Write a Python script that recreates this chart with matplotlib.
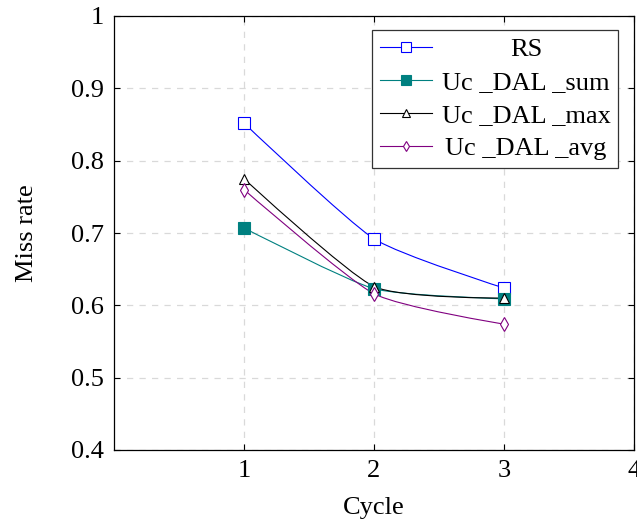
import matplotlib.pyplot as plt
import numpy as np
from matplotlib.path import Path
from matplotlib.patches import PathPatch

cycles = [1, 2, 3]
rs = [0.852, 0.692, 0.624]
dal_sum = [0.707, 0.623, 0.609]
dal_max = [0.775, 0.626, 0.610]
dal_avg = [0.760, 0.616, 0.574]

labels = ['RS', 'Uc _DAL _sum', 'Uc _DAL _max', 'Uc _DAL _avg']
colors = ['#0000ff', '#008080', '#000000', '#800080']
markers = ['s', 's', '^', 'd']
filled = [False, True, False, False]

plt.rcParams['font.family'] = ['Liberation Serif', 'DejaVu Serif']


def smooth_path(x, y, f=0.1):
    # bezier curve like pgfplots "smooth"
    pts = np.column_stack([x, y]).astype(float)
    n = len(pts)
    verts = [pts[0]]
    codes = [Path.MOVETO]
    for i in range(n - 1):
        p0 = pts[i]
        p1 = pts[i + 1]
        c1 = p0 if i == 0 else p0 + f * (pts[i + 1] - pts[i - 1])
        c2 = p1 if i + 2 >= n else p1 - f * (pts[i + 2] - pts[i])
        verts += [c1, c2, p1]
        codes += [Path.CURVE4] * 3
    return Path(verts, codes)


fig = plt.figure(figsize=(6.37, 5.25), dpi=100)
ax = fig.add_axes([114 / 637, 1 - 450 / 525, 520 / 637, 434 / 525])

series = [rs, dal_sum, dal_max, dal_avg]
for vals, lab, c, m, fl in zip(series, labels, colors, markers, filled):
    ax.add_patch(PathPatch(smooth_path(cycles, vals), facecolor='none',
                           edgecolor=c, lw=0.8, zorder=3))
    ms = 8.5 if m == 's' else 7
    ax.plot(cycles, vals, linestyle='none', marker=m, markersize=ms,
            markerfacecolor=c if fl else 'white', markeredgecolor=c,
            markeredgewidth=0.8, zorder=4)
    lms = 7 if m == 's' else 5.5
    ax.plot([], [], color=c, lw=0.8, marker=m, markersize=lms,
            markerfacecolor=c if fl else 'white', markeredgecolor=c,
            markeredgewidth=0.8, label=lab)

ax.set_xlim(0, 4)
ax.set_ylim(0.4, 1.0)
ax.set_xticks([1, 2, 3, 4])
ax.set_yticks([0.4, 0.5, 0.6, 0.7, 0.8, 0.9, 1.0])
ax.set_yticklabels(['0.4', '0.5', '0.6', '0.7', '0.8', '0.9', '1'])
ax.grid(True, color='#d9d9d9', linestyle=(0, (5, 5)), lw=0.9)
ax.set_axisbelow(True)
ax.tick_params(direction='in', length=4, width=0.8, labelsize=19,
               top=True, right=True, pad=7)
for s in ax.spines.values():
    s.set_linewidth(0.9)

ax.set_xlabel('Cycle', fontsize=19, labelpad=11)
ax.set_ylabel('Miss rate', fontsize=19, labelpad=24)

leg = ax.legend(loc='upper right', fontsize=19, frameon=True, fancybox=False,
                edgecolor='#333333', framealpha=1, handlelength=2.0,
                borderpad=0.3, labelspacing=0.36, handletextpad=0.35,
                borderaxespad=0, bbox_to_anchor=(0.97, 0.968))
leg.get_frame().set_linewidth(0.9)

# center the legend entries like pgfplots
fig.canvas.draw()
r = fig.canvas.get_renderer()
widths = [t.get_window_extent(r).width for t in leg.get_texts()]
wmax = max(widths)
for t, w in zip(leg.get_texts(), widths):
    t.set_position(((wmax - w) / 2, 0))

fig.savefig('out.png', dpi=100)
